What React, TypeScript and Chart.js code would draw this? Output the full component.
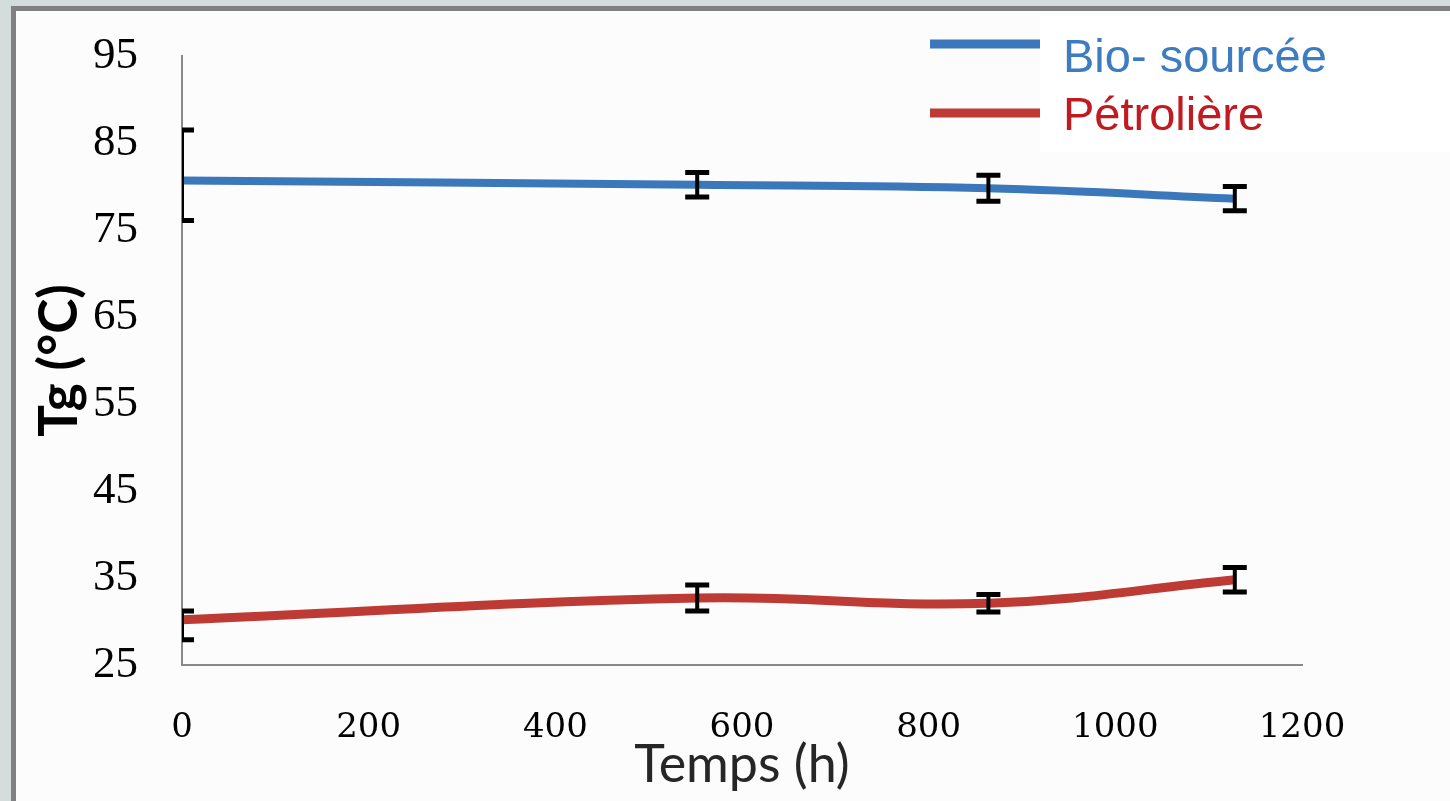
import React, { useEffect, useRef } from "react";
import { Chart, registerables } from "chart.js";

Chart.register(...registerables);

// ---- Data ----
const times = [0, 552, 864, 1128];
const bioValues = [80.7, 80.2, 79.8, 78.6];
const bioErrPlus = [5.8, 1.4, 1.5, 1.4];
const bioErrMinus = [4.6, 1.4, 1.5, 1.4];
const petroValues = [30.2, 32.7, 32.1, 34.8];
const petroErrPlus = [1.0, 1.5, 1.0, 1.4];
const petroErrMinus = [2.3, 1.5, 1.0, 1.4];
const seriesLabels = ["Bio- sourcée", "Pétrolière"];
const seriesColors = ["#3a77bb", "#be3a34"];
const legendTextColors = ["#3d7cc0", "#c11b22"];
const xTitle = "Temps (h)";
const yTitle = "Tg (°C)";
const xMin = 0, xMax = 1200, xStep = 200;
const yMin = 25, yMax = 95, yStep = 10;

const errorBarPlugin = {
  id: "errorBars",
  afterDatasetsDraw(chart: any) {
    const { ctx, chartArea, scales } = chart;
    ctx.save();
    ctx.beginPath();
    ctx.rect(chartArea.left, chartArea.top - 30, chartArea.right - chartArea.left + 30, chartArea.bottom - chartArea.top + 30);
    ctx.clip();
    ctx.strokeStyle = "#000";
    chart.data.datasets.forEach((ds: any) => {
      ds.data.forEach((p: any, i: number) => {
        const x = scales.x.getPixelForValue(p.x);
        const yTop = scales.y.getPixelForValue(p.y + ds.errPlus[i]);
        const yBot = scales.y.getPixelForValue(p.y - ds.errMinus[i]);
        ctx.lineWidth = 4;
        ctx.beginPath();
        ctx.moveTo(x, yTop);
        ctx.lineTo(x, yBot);
        ctx.stroke();
        ctx.lineWidth = 5;
        ctx.beginPath();
        ctx.moveTo(x - 12, yTop);
        ctx.lineTo(x + 12, yTop);
        ctx.moveTo(x - 12, yBot);
        ctx.lineTo(x + 12, yBot);
        ctx.stroke();
      });
    });
    ctx.restore();
  },
};

const legendPlugin = {
  id: "customLegend",
  afterDraw(chart: any) {
    const { ctx } = chart;
    ctx.save();
    chart.data.datasets.forEach((ds: any, i: number) => {
      const yLine = 44 + i * 69;
      ctx.strokeStyle = ds.borderColor;
      ctx.lineWidth = 9;
      ctx.lineCap = "butt";
      ctx.beginPath();
      ctx.moveTo(930, yLine);
      ctx.lineTo(1042, yLine);
      ctx.stroke();
    });
    ctx.fillStyle = "#ffffff";
    ctx.fillRect(1040, 16, 410, 136);
    ctx.font = "47px 'Liberation Sans', Arial, sans-serif";
    ctx.textBaseline = "alphabetic";
    ctx.textAlign = "left";
    chart.data.datasets.forEach((ds: any, i: number) => {
      ctx.fillStyle = legendTextColors[i];
      ctx.fillText(ds.label, 1063, 72 + i * 58);
    });
    ctx.restore();
  },
};

export default function App() {
  const ref = useRef<HTMLCanvasElement | null>(null);

  useEffect(() => {
    if (!ref.current) return;
    const makeData = (vals: number[]) => times.map((t, i) => ({ x: t, y: vals[i] }));
    const chart = new Chart(ref.current, {
      type: "line",
      data: {
        datasets: [
          {
            label: seriesLabels[0],
            data: makeData(bioValues),
            borderColor: seriesColors[0],
            backgroundColor: seriesColors[0],
            borderWidth: 8,
            tension: 0.4,
            pointRadius: 0,
            clip: 0,
            errPlus: bioErrPlus,
            errMinus: bioErrMinus,
          } as any,
          {
            label: seriesLabels[1],
            data: makeData(petroValues),
            borderColor: seriesColors[1],
            backgroundColor: seriesColors[1],
            borderWidth: 9,
            tension: 0.4,
            pointRadius: 0,
            clip: 0,
            errPlus: petroErrPlus,
            errMinus: petroErrMinus,
          } as any,
        ],
      },
      options: {
        animation: false,
        responsive: false,
        devicePixelRatio: 1,
        layout: { padding: { left: 0, top: 56, right: 148, bottom: 0 } },
        plugins: { legend: { display: false }, tooltip: { enabled: false } },
        scales: {
          x: {
            type: "linear",
            min: xMin,
            max: xMax,
            ticks: {
              stepSize: xStep,
              autoSkip: false,
              maxRotation: 0,
              padding: 46,
              color: "#000",
              font: { family: "'DejaVu Serif', serif", size: 34, lineHeight: 1 },
              callback: (v: any) => String(v),
            },
            grid: { display: false, drawTicks: false },
            border: { display: true, color: "#898989", width: 2 },
            title: {
              display: true,
              text: xTitle,
              color: "#262626",
              font: { family: "Lato, sans-serif", size: 52, lineHeight: 1 },
              padding: { top: 0, bottom: 10 },
            },
            afterFit: (s: any) => {
              s.height = 136;
              s.paddingLeft = 0;
              s.paddingRight = 0;
            },
          },
          y: {
            type: "linear",
            min: yMin,
            max: yMax,
            ticks: {
              stepSize: yStep,
              padding: 44,
              color: "#000",
              font: { family: "'Liberation Serif', serif", size: 45, lineHeight: 1 },
              callback: (v: any) => String(v),
            },
            grid: { display: false, drawTicks: false },
            border: { display: true, color: "#898989", width: 2 },
            title: {
              display: true,
              text: yTitle,
              color: "#000",
              font: { family: "Lato, sans-serif", size: 53, weight: "bold", lineHeight: 1 },
              padding: { top: 33, bottom: 0 },
            },
            afterFit: (s: any) => {
              s.width = 182;
              s.paddingTop = 0;
              s.paddingBottom = 0;
            },
          },
        },
      } as any,
      plugins: [errorBarPlugin, legendPlugin],
    });
    return () => chart.destroy();
  }, []);

  return (
    <div style={{ position: "fixed", left: 0, top: 0, width: 1450, height: 801, background: "#d5dcdc", overflow: "hidden" }}>
      <div
        style={{
          position: "absolute",
          left: 11,
          top: 6,
          right: 0,
          bottom: 0,
          borderLeft: "5px solid #808080",
          borderTop: "5px solid #808080",
          background: "#fcfcfc",
        }}
      />
      <canvas ref={ref} width={1450} height={801} style={{ position: "absolute", left: 0, top: 0, display: "block" }} />
    </div>
  );
}
